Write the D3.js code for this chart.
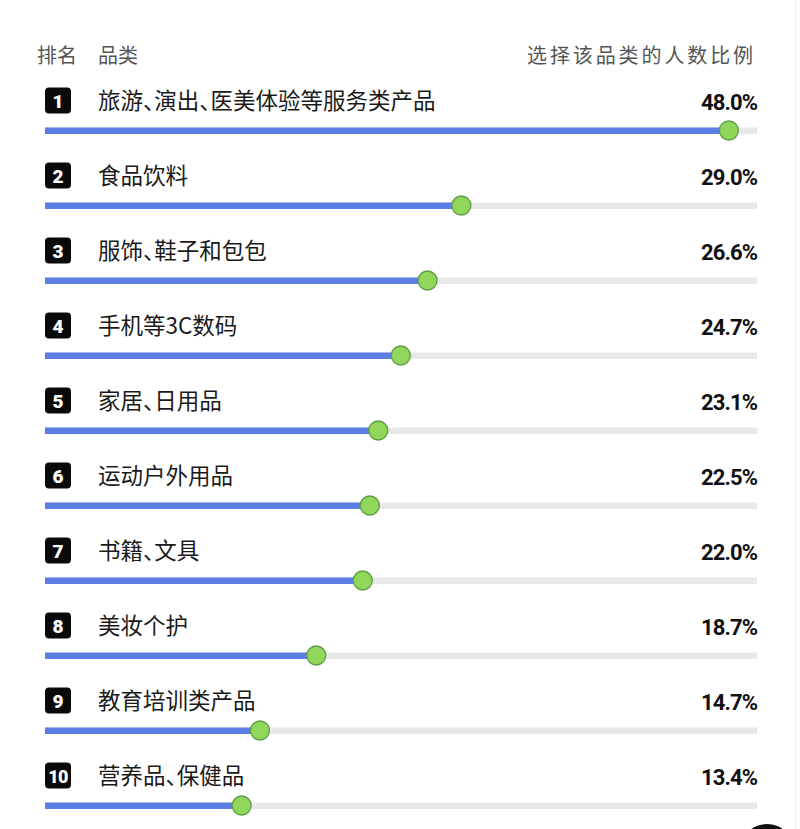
<!DOCTYPE html>
<html><head><meta charset="utf-8">
<script src="https://cdn.jsdelivr.net/npm/d3@7"></script>
<style>
html,body{margin:0;padding:0;background:#fff;}
svg{display:block;}
</style></head>
<body>
<svg id="c" width="800" height="829"></svg>
<script>
const ranks = [1,2,3,4,5,6,7,8,9,10];
const categories = ["旅游、演出、医美体验等服务类产品","食品饮料","服饰、鞋子和包包","手机等3C数码","家居、日用品","运动户外用品","书籍、文具","美妆个护","教育培训类产品","营养品、保健品"];
const values = [48.0,29.0,26.6,24.7,23.1,22.5,22.0,18.7,14.7,13.4];
const headerLeft = ["排名","品类"];
const headerRight = "选择该品类的人数比例";

const svg = d3.select("#c");
const cjk = "'Noto Sans CJK SC','Noto Sans',sans-serif";
const W = 800, H = 829;

// faint right edge line
svg.append("line").attr("x1",795.5).attr("x2",795.5).attr("y1",0).attr("y2",H)
  .attr("stroke","#eeeeee").attr("stroke-width",1);

const x = d3.scaleLinear().domain([0,50]).range([53,757]);
const y = d3.scaleBand().domain(ranks).range([63, 813]).paddingInner(0).paddingOuter(0);

svg.append("text").attr("x",37).attr("y",63).text(headerLeft[0])
  .attr("font-family",cjk).attr("font-size",20).attr("fill","#555");
svg.append("text").attr("x",98).attr("y",63).text(headerLeft[1])
  .attr("font-family",cjk).attr("font-size",20).attr("fill","#555");
svg.append("text").attr("x",756).attr("y",63).attr("text-anchor","end").text(headerRight)
  .attr("font-family",cjk).attr("font-size",20).attr("letter-spacing",2.9).attr("fill","#555");

const rows = svg.selectAll("g.row").data(ranks.map((r,i)=>({r, c:categories[i], v:values[i]})))
  .enter().append("g").attr("class","row")
  .attr("transform", d=>`translate(0,${y(d.r)})`);

// rank box
rows.append("rect").attr("x",45).attr("y",24.5).attr("width",26).attr("height",26).attr("rx",4)
  .attr("fill","#0a0a0a");
rows.append("text").attr("x",58).attr("y",45)
  .attr("text-anchor","middle")
  .attr("font-family","Roboto,'Liberation Sans',sans-serif").attr("font-weight",900)
  .attr("font-size",d=>d.r>=10?18:19).attr("letter-spacing",d=>d.r>=10?-0.8:0)
  .attr("fill","#fff").text(d=>d.r);

// label
rows.append("text").attr("x",98).attr("y",46)
  .attr("font-family",cjk).attr("font-size",22.5).attr("fill","#1a1a1a")
  .style("font-feature-settings","'halt'")
  .text(d=>d.c);

// value
rows.append("text").attr("x",757).attr("y",47).attr("text-anchor","end")
  .attr("font-family","Roboto,'Liberation Sans',sans-serif").attr("font-weight",700)
  .attr("font-size",22).attr("letter-spacing",-0.9).attr("fill","#111")
  .text(d=>d.v.toFixed(1)+"%");

// track
rows.append("rect").attr("x",45).attr("y",64.5).attr("width",757-45).attr("height",6.5)
  .attr("fill","#e8e8e8");
// bar
rows.append("rect").attr("x",45).attr("y",64.5).attr("width",d=>x(d.v)-45).attr("height",6.5)
  .attr("fill","#5a7ee3");
// dot
rows.append("circle").attr("cx",d=>x(d.v)).attr("cy",67.5).attr("r",9.5)
  .attr("fill","#8fd65a").attr("stroke","#5f9d45").attr("stroke-width",1.3);

// partial dark button at bottom right
svg.append("circle").attr("cx",767).attr("cy",851).attr("r",27).attr("fill","#111");
</script>
</body></html>
